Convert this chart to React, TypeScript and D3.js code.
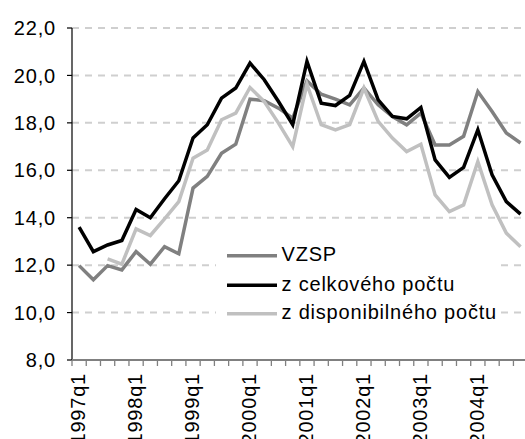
import React from "react";
import * as d3 from "d3";

const years = [1997, 1998, 1999, 2000, 2001, 2002, 2003, 2004];
const quarters = years.flatMap((y) => [1, 2, 3, 4].map((q) => `${y}q${q}`));

const vzsp = [
  11.98, 11.38, 11.98, 11.8, 12.57, 12.04, 12.78, 12.48, 15.25, 15.74, 16.72,
  17.1, 19.0, 18.93, 18.62, 18.2, 19.77, 19.21, 19.0, 18.76, 19.47, 18.76,
  18.27, 17.92, 18.41, 17.07, 17.07, 17.43, 19.32, 18.48, 17.57, 17.15,
];
const celkovy = [
  13.6, 12.57, 12.85, 13.04, 14.35, 14.0, 14.8, 15.56, 17.36, 17.92, 19.04,
  19.47, 20.52, 19.82, 18.9, 17.92, 20.59, 18.83, 18.73, 19.16, 20.59, 18.97,
  18.27, 18.17, 18.65, 16.44, 15.7, 16.12, 17.71, 15.81, 14.68, 14.15,
];
const disponibilny: (number | null)[] = [
  null, null, 12.26, 12.04, 13.53, 13.25, 13.95, 14.68, 16.51, 16.86, 18.13,
  18.41, 19.49, 18.9, 17.99, 17.0, 19.63, 17.92, 17.7, 17.92, 19.47, 18.06,
  17.36, 16.79, 17.1, 14.96, 14.26, 14.54, 16.37, 14.54, 13.35, 12.78,
];

const yTicks = [8, 10, 12, 14, 16, 18, 20, 22];

const seriesNames = ["VZSP", "z celkového počtu", "z disponibilného počtu"];
const seriesColors = ["#808080", "#000000", "#c0c0c0"];
const seriesData = [vzsp, celkovy, disponibilny];

const W = 525;
const H = 439;
const FONT = "'Liberation Sans', Arial, sans-serif";

export default function App() {
  const left = 72;
  const band = 14.24;
  const x = d3
    .scaleBand<string>()
    .domain(quarters)
    .range([left, left + band * quarters.length])
    .padding(0);
  const y = d3.scaleLinear().domain([8, 22]).range([360, 28]);
  const cx = (i: number) => (x(quarters[i]) as number) + x.bandwidth() / 2;

  const line = d3
    .line<number | null>()
    .defined((d) => d != null)
    .x((_, i) => cx(i))
    .y((d) => y(d as number));

  const tickXs = quarters.map((q) => x(q) as number);
  tickXs.push(left + band * quarters.length);

  const legendX0 = 227;
  const legendX1 = 277;
  const legendY = [255.7, 285.2, 313.7];

  return (
    <svg
      width={W}
      height={H}
      style={{ position: "absolute", left: 0, top: 0, display: "block", background: "#fff" }}
      fontFamily={FONT}
    >
      {/* gridlines */}
      {yTicks
        .filter((t) => t > 8)
        .map((t) => (
          <line
            key={t}
            x1={left}
            x2={W + 10}
            y1={y(t)}
            y2={y(t)}
            stroke="#cfcfcf"
            strokeWidth={2}
            strokeDasharray="7,6"
          />
        ))}
      {/* y axis */}
      <line x1={left} x2={left} y1={y(22)} y2={y(8)} stroke="#000" strokeWidth={1.2} />
      {yTicks.map((t) => (
        <g key={t}>
          <line x1={left - 5} x2={left} y1={y(t)} y2={y(t)} stroke="#000" strokeWidth={1.2} />
          <text
            x={56}
            y={y(t)}
            dy="0.36em"
            textAnchor="end"
            fontSize={20}
            letterSpacing={0.8}
            fill="#000"
          >
            {t.toFixed(1).replace(".", ",")}
          </text>
        </g>
      ))}
      {/* x axis */}
      <line x1={left} x2={W + 10} y1={y(8)} y2={y(8)} stroke="#808080" strokeWidth={2} />
      {tickXs.map((tx, i) => (
        <line key={i} x1={tx} x2={tx} y1={y(8)} y2={y(8) + 6} stroke="#808080" strokeWidth={1.3} />
      ))}
      {quarters.map((q, i) =>
        q.endsWith("q1") ? (
          <text
            key={q}
            transform={`translate(${cx(i) - 1.5},373) rotate(-90)`}
            dy="0.36em"
            textAnchor="end"
            fontSize={20}
            letterSpacing={0.8}
            fill="#000"
          >
            {q}
          </text>
        ) : null
      )}
      {/* legend background */}
      <rect x={216} y={236} width={285} height={94} fill="#fff" />
      {/* series */}
      {seriesData.map((d, k) => (
        <path
          key={k}
          d={line(d) || ""}
          fill="none"
          stroke={seriesColors[k]}
          strokeWidth={3.5}
          strokeLinejoin="miter"
        />
      ))}
      {/* legend */}
      {seriesNames.map((n, k) => (
        <g key={n}>
          <line
            x1={legendX0}
            x2={legendX1}
            y1={legendY[k]}
            y2={legendY[k]}
            stroke={seriesColors[k]}
            strokeWidth={3.5}
          />
          <text
            x={281.5}
            y={legendY[k]}
            dy="0.28em"
            fontSize={20}
            letterSpacing={0.8}
            fill="#000"
          >
            {n}
          </text>
        </g>
      ))}
    </svg>
  );
}
